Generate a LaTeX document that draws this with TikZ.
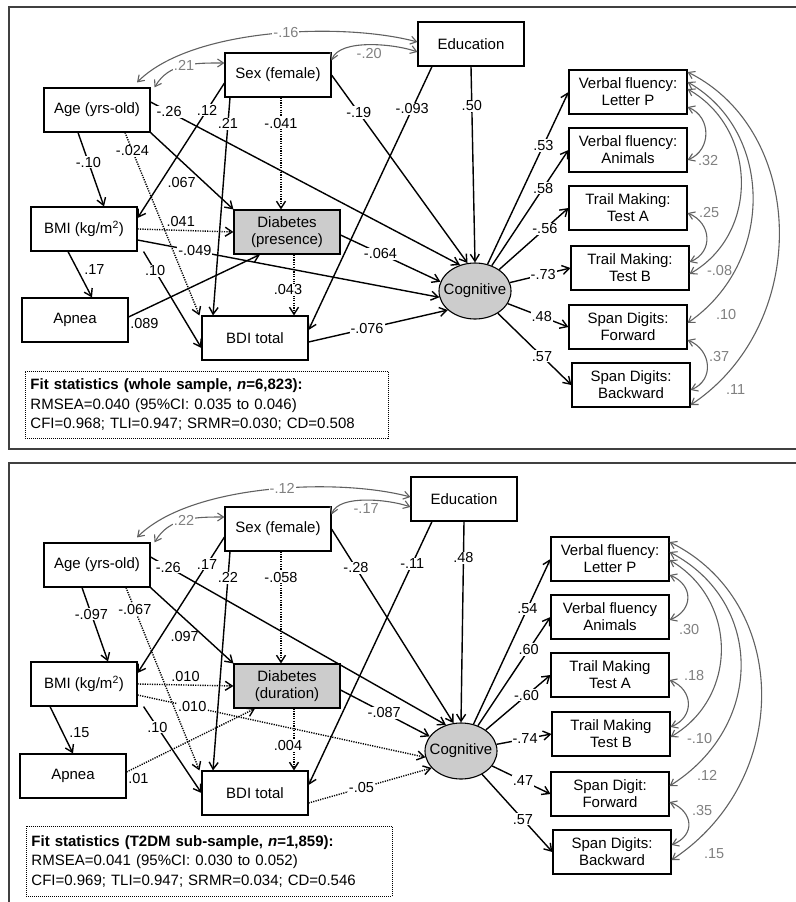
\documentclass[tikz,border=0pt]{standalone}
\usepackage{fontspec}
\setmainfont{Liberation Sans}
\usetikzlibrary{arrows.meta,shapes.geometric}
\newcommand\boxfont{\fontsize{15}{17}\selectfont}
\newcommand\lblfont{\fontsize{14.5}{16}\selectfont}
\newcommand\fitfont{\fontsize{15}{19.5}\selectfont}
\tikzset{
  obs/.style={draw, line width=1.1pt, minimum width=106pt, minimum height=44pt, inner sep=1pt, align=center, font=\boxfont},
  obsg/.style={obs, fill=black!20},
  ind/.style={obs, minimum width=118pt},
  lat/.style={ellipse, draw, line width=1.1pt, fill=black!20, minimum width=72pt, minimum height=56pt, inner sep=0pt, font=\boxfont},
  eff/.style={line width=1.4pt, -{Straight Barb[length=7pt,width=9pt]}},
  effd/.style={eff, dash pattern=on 1.2pt off 1.2pt},
  cov/.style={black!62, line width=1.1pt, {Straight Barb[length=6pt,width=8pt]}-{Straight Barb[length=6pt,width=8pt]}},
  lbl/.style={fill=white, inner sep=1pt, font=\lblfont},
  tlbl/.style={inner sep=1pt, font=\lblfont},
  clbl/.style={text=black!50, inner sep=1pt, font=\lblfont},
  fitbox/.style={draw, line width=0.9pt, dash pattern=on 1pt off 1pt, anchor=north west, minimum width=363pt, minimum height=67pt, text width=353pt, inner xsep=5pt, align=left, font=\fitfont},
  frame/.style={black!75, line width=1.5pt}
}
\begin{document}
\begin{tikzpicture}[x=1pt,y=-1pt]
\useasboundingbox (0,0) rectangle (795,902);
\draw[frame] (800,7) -- (9,7) -- (9,449) -- (800,449);
\draw[frame] (800,463) -- (9,463) -- (9,910);

%WHOLE SAMPLE
\node[obs] (age1) at (97,110) {Age (yrs-old)};
\node[obs] (sex1) at (278,75) {Sex (female)};
\node[obs] (edu1) at (471,44) {Education};
\node[obs] (bmi1) at (84,229) {BMI (kg/m\textsuperscript{2})};
\node[obsg] (dia1) at (287,232) {Diabetes\\(presence)};
\node[obs] (apn1) at (75,320) {Apnea};
\node[obs] (bdi1) at (255,338) {BDI total};
\node[lat] (cog1) at (475,291) {\makebox[40pt]{Cognitive}};
\node[ind] (vfl1) at (628,92) {Verbal fluency:\\Letter P};
\node[ind] (vfa1) at (628,150) {Verbal fluency:\\Animals};
\node[ind] (tma1) at (628,208) {Trail Making:\\Test A};
\node[ind] (tmb1) at (630,268) {Trail Making:\\Test B};
\node[ind] (sdf1) at (628,327) {Span Digits:\\Forward};
\node[ind] (sdb1) at (631,385) {Span Digits:\\Backward};
\node[fitbox] (fit1) at (25,371) {\textbf{Fit statistics (whole sample, \textit{n}=6,823):}\\RMSEA=0.040 (95\%CI: 0.035 to 0.046)\\CFI=0.968; TLI=0.947; SRMR=0.030; CD=0.508};

\draw[eff] ([xshift=-19pt]age1.south) -- node[lbl,pos=0.4]{-.10} ([xshift=20pt]bmi1.north);
\draw[effd] ([xshift=28pt]age1.south) -- node[lbl,pos=0.1]{-.024} ([xshift=-2pt]bdi1.north west);
\draw[eff] (age1.south east) -- node[tlbl,pos=0.65,left=7pt]{.067} (dia1.north west);
\draw[eff] ([yshift=8pt]age1.east) -- node[lbl,pos=0.06]{-.26} (cog1.120);
\draw[eff] ([yshift=-8pt]sex1.west) -- node[lbl,pos=0.2]{.12} ([yshift=11pt]bmi1.east);
\draw[eff] ([xshift=-48pt]sex1.south) -- node[lbl,pos=0.12]{.21} ([xshift=-42pt]bdi1.north);
\draw[effd] ([xshift=3pt]sex1.south) -- node[lbl,pos=0.23]{-.041} ([xshift=-6pt]dia1.north);
\draw[eff] (sex1.east) -- node[lbl,pos=0.2]{-.19} (cog1.105);
\draw[eff] ([xshift=-39pt]edu1.south) -- node[lbl,pos=0.16]{-.093} ([yshift=8pt]bdi1.east);
\draw[eff] (edu1.south) -- node[lbl,pos=0.2]{.50} (cog1.north);
\draw[effd] (bmi1.east) -- node[tlbl,pos=0.45,above=2pt]{.041} (dia1.west);
\draw[eff] ([yshift=-11pt]bmi1.east) -- node[lbl,pos=0.19]{-.049} (cog1.190);
\draw[eff] ([xshift=-16pt]bmi1.south) -- node[tlbl,pos=0.4,right=5pt]{.17} ([xshift=17pt]apn1.north);
\draw[eff] ([xshift=6pt]bmi1.south east) -- node[lbl,pos=0.2]{.10} ([yshift=-10pt]bdi1.west);
\draw[eff] ([yshift=3pt]apn1.east) -- node[tlbl,pos=0,anchor=north west]{.089} ([xshift=-27pt]dia1.south);
\draw[effd] ([xshift=7pt]dia1.south) -- node[lbl,pos=0.58,xshift=-6pt]{.043} ([xshift=39pt]bdi1.north);
\draw[eff] ([yshift=-3pt]dia1.east) -- node[lbl,pos=0.4]{-.064} (cog1.165);
\draw[eff] ([yshift=-4pt]bdi1.east) -- node[lbl,pos=0.42]{-.076} (cog1.215);

\draw[eff] (cog1) -- node[lbl,pos=0.69]{.53} (vfl1.west);
\draw[eff] (cog1) -- node[lbl,pos=0.67]{.58} (vfa1.west);
\draw[eff] (cog1) -- node[lbl,pos=0.66]{-.56} (tma1.west);
\draw[eff] (cog1) -- node[lbl,pos=0.55]{-.73} (tmb1.west);
\draw[eff] (cog1) -- node[lbl,pos=0.56]{.48} (sdf1.west);
\draw[eff] (cog1) -- node[lbl,pos=0.6]{.57} (sdb1.west);

\draw[cov] ([xshift=40pt,yshift=5pt]age1.north) to[out=45,in=165,looseness=0.7] node[clbl,fill=white,pos=0.55]{-.16} ([yshift=2pt]edu1.west);
\draw[cov] ([xshift=4pt]age1.north east) to[out=60,in=180] node[clbl,fill=white]{.21} ([yshift=12pt]sex1.west);
\draw[cov] ([yshift=-8pt]sex1.north east) to[out=70,in=160,looseness=0.7] node[clbl,below=2pt]{-.20} ([yshift=-8pt]edu1.west);
\draw[cov] ([yshift=-15pt]vfl1.east) .. controls +(24,10) and +(24,-10) .. node[clbl,pos=1,anchor=west,xshift=9pt,yshift=-1pt]{.32} ([yshift=-10pt]vfa1.east);
\draw[cov] ([yshift=-5pt]tma1.east) .. controls +(24,10) and +(24,-10) .. node[clbl,pos=0,anchor=west,xshift=10pt]{.25} ([yshift=6pt]tmb1.east);
\draw[cov] ([yshift=3pt]vfl1.east) .. controls +(70,40) and +(70,-40) .. node[clbl,pos=1,anchor=west,xshift=16pt,yshift=3pt]{-.08} ([yshift=-6pt]tmb1.east);
\draw[cov] ([yshift=10pt]vfl1.east) .. controls +(87,50) and +(87,-60) .. node[clbl,pos=1,anchor=west,xshift=27pt,yshift=8pt]{.10} ([yshift=4pt]sdf1.east);
\draw[cov] ([yshift=-13pt]sdf1.east) .. controls +(24,10) and +(24,-10) .. node[clbl,pos=0,anchor=west,xshift=20pt,yshift=-17pt]{.37} ([yshift=-5pt]sdb1.east);
\draw[cov] ([yshift=20pt]vfl1.east) .. controls +(120,60) and +(120,-80) .. node[clbl,pos=1,anchor=west,xshift=34pt,yshift=15pt]{.11} ([yshift=-20pt]sdb1.east);

%T2DM SUB-SAMPLE
\node[obs] (age2) at (97,565) {Age (yrs-old)};
\node[obs] (sex2) at (278,529) {Sex (female)};
\node[obs] (edu2) at (464,499) {Education};
\node[obs] (bmi2) at (84,684) {BMI (kg/m\textsuperscript{2})};
\node[obsg] (dia2) at (287,686) {Diabetes\\(duration)};
\node[obs] (apn2) at (73,776) {Apnea};
\node[obs] (bdi2) at (255,793) {BDI total};
\node[lat] (cog2) at (461,751) {\makebox[40pt]{Cognitive}};
\node[ind] (vfl2) at (610,559) {Verbal fluency:\\Letter P};
\node[ind] (vfa2) at (610,617) {Verbal fluency\\Animals};
\node[ind] (tma2) at (610,675) {Trail Making\\Test A};
\node[ind] (tmb2) at (611,734) {Trail Making\\Test B};
\node[ind] (sdf2) at (610,794) {Span Digit:\\Forward};
\node[ind] (sdb2) at (612,852) {Span Digits:\\Backward};
\node[fitbox,minimum width=366pt,minimum height=70pt,text width=356pt] (fit2) at (26,826) {\textbf{Fit statistics (T2DM sub-sample, \textit{n}=1,859):}\\RMSEA=0.041 (95\%CI: 0.030 to 0.052)\\CFI=0.969; TLI=0.947; SRMR=0.034; CD=0.546};

\draw[eff] ([xshift=-15pt]age2.south) -- node[lbl,pos=0.36]{-.097} ([xshift=24pt]bmi2.north);
\draw[effd] ([xshift=29pt]age2.south) -- node[lbl,pos=0.12]{-.067} ([xshift=-2pt]bdi2.north west);
\draw[eff] (age2.south east) -- node[tlbl,pos=0.65,left=4pt]{.097} (dia2.north west);
\draw[eff] ([yshift=8pt]age2.east) -- node[lbl,pos=0.06]{-.26} (cog2.120);
\draw[eff] ([yshift=-8pt]sex2.west) -- node[lbl,pos=0.2]{.17} ([yshift=11pt]bmi2.east);
\draw[eff] ([xshift=-48pt]sex2.south) -- node[lbl,pos=0.12]{.22} ([xshift=-42pt]bdi2.north);
\draw[effd] ([xshift=3pt]sex2.south) -- node[lbl,pos=0.23]{-.058} ([xshift=-6pt]dia2.north);
\draw[eff] (sex2.east) -- node[lbl,pos=0.2]{-.28} (cog2.105);
\draw[eff] ([xshift=-32pt]edu2.south) -- node[lbl,pos=0.16]{-.11} ([yshift=8pt]bdi2.east);
\draw[eff] (edu2.south) -- node[lbl,pos=0.18]{.48} (cog2.north);
\draw[effd] (bmi2.east) -- node[tlbl,pos=0.5,above=2pt]{.010} (dia2.west);
\draw[effd] ([yshift=-11pt]bmi2.east) -- node[lbl,pos=0.19]{.010} (cog2.190);
\draw[eff] ([xshift=-34pt]bmi2.south) -- node[tlbl,pos=0.55,right=5pt]{.15} (apn2.north);
\draw[eff] ([xshift=6pt]bmi2.south east) -- node[lbl,pos=0.24]{.10} (bdi2.west);
\draw[effd] ([yshift=4pt]apn2.east) -- node[tlbl,pos=0,anchor=north west]{.01} ([xshift=-32pt]dia2.south);
\draw[effd] ([xshift=7pt]dia2.south) -- node[lbl,pos=0.59,xshift=-6pt]{.004} ([xshift=39pt]bdi2.north);
\draw[eff] ([yshift=-4pt]dia2.east) -- node[lbl,pos=0.49]{-.087} (cog2.155);
\draw[effd] ([yshift=-10pt]bdi2.east) -- node[lbl,pos=0.43]{-.05} (cog2.210);

\draw[eff] (cog2) -- node[lbl,pos=0.7]{.54} (vfl2.west);
\draw[eff] (cog2) -- node[lbl,pos=0.7]{.60} (vfa2.west);
\draw[eff] (cog2) -- node[lbl,pos=0.63]{-.60} (tma2.west);
\draw[eff] (cog2) -- node[lbl,pos=0.52]{-.74} (tmb2.west);
\draw[eff] (cog2) -- node[lbl,pos=0.53]{.47} (sdf2.west);
\draw[eff] (cog2) -- node[lbl,pos=0.58]{.57} (sdb2.west);

\draw[cov] ([xshift=40pt,yshift=5pt]age2.north) to[out=45,in=165,looseness=0.7] node[clbl,fill=white,pos=0.55]{-.12} ([yshift=2pt]edu2.west);
\draw[cov] ([xshift=4pt]age2.north east) to[out=60,in=180] node[clbl,fill=white]{.22} ([yshift=12pt]sex2.west);
\draw[cov] ([yshift=-8pt]sex2.north east) to[out=70,in=160,looseness=0.7] node[clbl,below=2pt]{-.17} ([yshift=-8pt]edu2.west);
\draw[cov] ([yshift=-16pt]vfl2.east) .. controls +(24,10) and +(24,-10) .. node[clbl,pos=1,anchor=west,xshift=8pt,yshift=-10pt]{.30} ([yshift=-3pt]vfa2.east);
\draw[cov] ([yshift=-5pt]tma2.east) .. controls +(24,10) and +(24,-10) .. node[clbl,pos=0,anchor=west,xshift=13pt,yshift=5pt]{.18} ([yshift=7pt]tmb2.east);
\draw[cov] ([yshift=-1pt]vfl2.east) .. controls +(68,40) and +(68,-40) .. node[clbl,pos=1,anchor=west,xshift=15pt,yshift=-1pt]{-.10} ([yshift=-3pt]tmb2.east);
\draw[cov] ([yshift=7pt]vfl2.east) .. controls +(95,50) and +(95,-60) .. node[clbl,pos=1,anchor=west,xshift=26pt,yshift=11pt]{.12} ([yshift=8pt]sdf2.east);
\draw[cov] ([yshift=-8pt]sdf2.east) .. controls +(24,10) and +(24,-10) .. node[clbl,pos=0,anchor=west,xshift=21pt,yshift=-8pt]{.35} ([yshift=7pt]sdb2.east);
\draw[cov] ([yshift=17pt]vfl2.east) .. controls +(121,60) and +(121,-80) .. node[clbl,pos=1,anchor=west,xshift=31pt,yshift=6pt]{.15} ([yshift=-8pt]sdb2.east);
\end{tikzpicture}
\end{document}
